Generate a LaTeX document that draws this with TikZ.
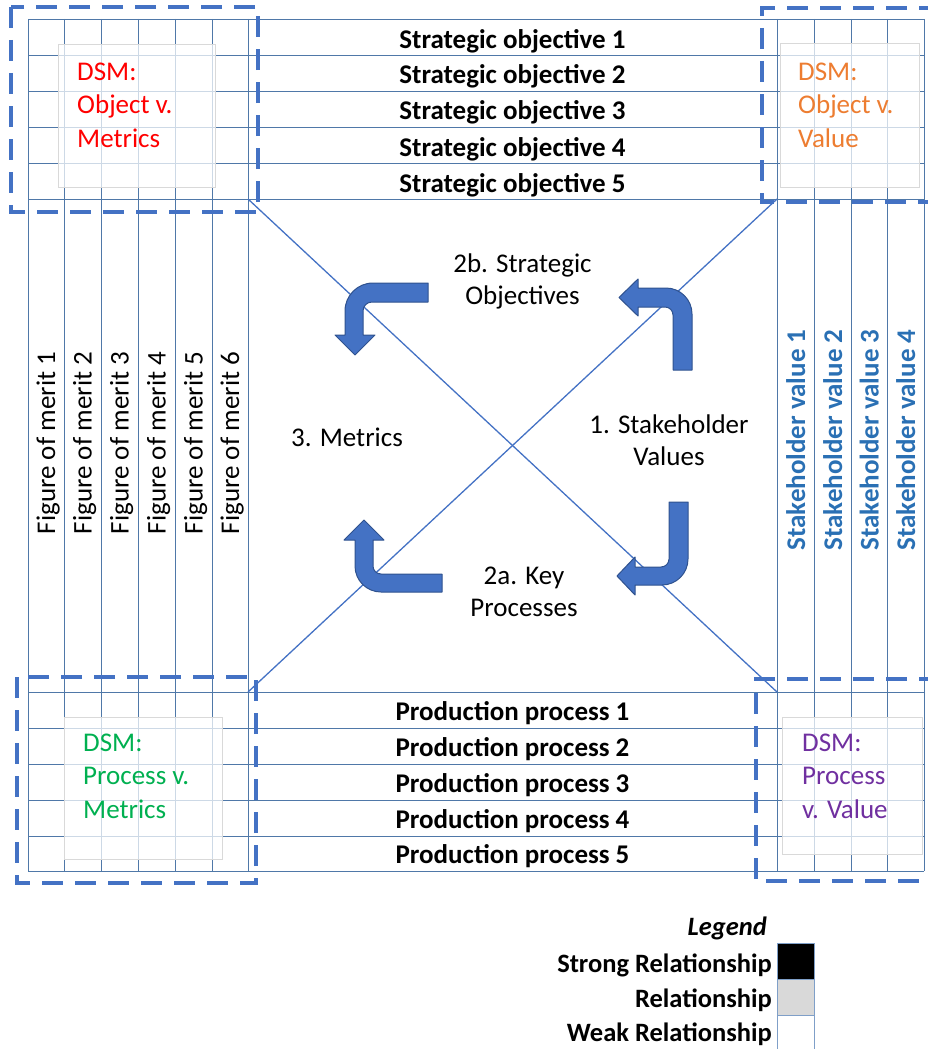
\documentclass[tikz,border=0pt]{standalone}
\usepackage{fontspec}
\setmainfont{Carlito}
\definecolor{gridc}{HTML}{4F78A8}
\definecolor{accent}{HTML}{4472C4}
\definecolor{accentdark}{HTML}{2F528F}
\definecolor{stake}{HTML}{2A70B4}
\definecolor{dsmred}{HTML}{FF0000}
\definecolor{dsmorange}{HTML}{ED7D31}
\definecolor{dsmgreen}{HTML}{00B050}
\definecolor{dsmpurple}{HTML}{7030A0}
\definecolor{boxgray}{HTML}{D9D9D9}
\definecolor{legedge}{HTML}{7F9FC8}
\begin{document}
\begin{tikzpicture}[x=1pt,y=1pt,
  gridline/.style={draw=gridc, line width=0.9pt},
  diag/.style={draw=accent, line width=1.3pt},
  dashbox/.style={draw=accent, line width=3.6pt, dash pattern=on 21pt off 12pt},
  bentarrow/.style={fill=accent, draw=accentdark, line width=1pt, line join=round},
  big/.style={font=\fontsize{27}{32}\selectfont, inner sep=0pt},
  rowtext/.style={big, font=\fontsize{27}{32}\selectfont\bfseries, anchor=base},
  coltext/.style={big, rotate=90, anchor=base},
  dsmbox/.style={draw=boxgray, line width=0.6pt, fill=white, fill opacity=0.72, anchor=north west, inner sep=0pt},
  dsmtext/.style={font=\fontsize{27}{33.5}\selectfont, inner sep=0pt, align=left, anchor=base west},
  midtext/.style={big, align=center, anchor=base},
  legbox/.style={draw=legedge, line width=0.8pt, minimum width=37pt, minimum height=36pt, anchor=north west, inner sep=0pt},
  legtext/.style={font=\fontsize{26.5}{32}\selectfont\bfseries, inner sep=0pt, anchor=base east}]
\useasboundingbox (0,0) rectangle (927,-1049);

% corners of the central region
\coordinate (cTL) at (248,-199);
\coordinate (cTR) at (777,-199);
\coordinate (cBL) at (248,-692);
\coordinate (cBR) at (777,-692);

% grid: metric and value columns run the full height
\foreach \x in {28,64.5,101,138,175,212,248,777,814,851,887.5,924}
  \draw[gridline] (\x,-19) -- (\x,-871);
% grid: objective and process rows run the full width
\foreach \y in {19,55,91,127,163,199,692,728,764,800,836,871}
  \draw[gridline] (28,-\y) -- (924,-\y);

% the two diagonals of the centre
\draw[diag] (cTL) -- (cBR);
\draw[diag] (cTR) -- (cBL);

% row labels
\foreach \i/\b in {1/48.5,2/84,3/119.5,4/156,5/192}
  \node[rowtext] (so\i) at (512.5,-\b) {Strategic objective \i};
\foreach \i/\b in {1/720,2/756,3/792,4/828,5/863.5}
  \node[rowtext] (pp\i) at (512.5,-\b) {Production process \i};

% column labels
\foreach \i/\x in {1/46.2,2/82.7,3/119.5,4/156.5,5/193.5,6/230}
  \node[coltext] (fm\i) at (\x+9,-443) {Figure of merit \i};
\foreach \i/\x in {1/795.5,2/832.5,3/869.2,4/905.7}
  \node[coltext, font=\fontsize{27}{32}\selectfont\bfseries, text=stake] (sv\i) at (\x+9.5,-440) {Stakeholder value \i};

% DSM captions on translucent panels
\node[dsmbox, minimum width=157pt, minimum height=143pt] (dsmA) at (58,-44) {};
\node[dsmbox, minimum width=139pt, minimum height=144pt] (dsmB) at (780,-43) {};
\node[dsmbox, minimum width=158pt, minimum height=142pt] (dsmC) at (64,-717) {};
\node[dsmbox, minimum width=140pt, minimum height=137pt] (dsmD) at (782,-717) {};
\node[dsmtext, text=dsmred] (dsmAt) at (77,-147) {DSM:\\Object v.\\Metrics};
\node[dsmtext, text=dsmorange] (dsmBt) at (798,-147) {DSM:\\Object v.\\Value};
\node[dsmtext, text=dsmgreen] (dsmCt) at (83,-818) {DSM:\\Process v.\\Metrics};
\node[dsmtext, text=dsmpurple] (dsmDt) at (802,-818) {DSM:\\Process\\v. Value};

% dashed DSM regions
\draw[dashbox] (11,-7) rectangle (258,-212);
\draw[dashbox] (940,-8) -- (762,-8) -- (762,-202) -- (940,-202);
\draw[dashbox] (17,-677) rectangle (256,-883);
\draw[dashbox] (940,-679) -- (756,-679) -- (756,-881) -- (940,-881);

% step labels
\node[midtext] (lbl2b) at (522.5,-304) {2b. Strategic\\Objectives};
\node[midtext] (lbl3) at (347,-446) {3. Metrics};
\node[midtext] (lbl1) at (669,-465) {1. Stakeholder\\Values};
\node[midtext] (lbl2a) at (524,-616) {2a. Key\\Processes};

% bent arrows of the cycle
\draw[bentarrow] (428,-283) -- (373,-283) arc[start angle=90,end angle=180,radius=28]
  -- (345,-335) -- (335,-335) -- (355,-355) -- (375,-335) -- (363,-335)
  -- (363,-311) arc[start angle=180,end angle=90,radius=9] -- (428,-302) -- cycle;
\draw[bentarrow] (692,-370) -- (692,-314) arc[start angle=0,end angle=90,radius=26]
  -- (638,-288) -- (638,-279) -- (619,-297.5) -- (638,-316) -- (638,-307)
  -- (665,-307) arc[start angle=90,end angle=0,radius=8] -- (673,-370) -- cycle;
\draw[bentarrow] (442,-592) -- (381,-592) arc[start angle=270,end angle=180,radius=26]
  -- (355,-540) -- (344,-540) -- (364,-520) -- (384,-540) -- (373,-540)
  -- (373,-566) arc[start angle=180,end angle=270,radius=8] -- (442,-574) -- cycle;
\draw[bentarrow] (688,-502) -- (688,-559) arc[start angle=0,end angle=-90,radius=26]
  -- (635,-585) -- (635,-595) -- (617,-576) -- (635,-557) -- (635,-567)
  -- (661,-567) arc[start angle=270,end angle=360,radius=8] -- (669,-502) -- cycle;

% legend
\node[font=\fontsize{26.5}{32}\selectfont\bfseries\itshape, inner sep=0pt, anchor=base east] (legT) at (767,-935) {Legend};
\node[legbox, fill=black] (legS) at (777,-943) {};
\node[legbox, fill=boxgray] (legM) at (777,-979) {};
\node[legbox, fill=white, minimum height=45pt] (legW) at (777,-1015) {};
\node[legtext] (legSt) at (772,-972) {Strong Relationship};
\node[legtext] (legMt) at (772,-1007) {Relationship};
\node[legtext] (legWt) at (772,-1041) {Weak Relationship};
\end{tikzpicture}
\end{document}
